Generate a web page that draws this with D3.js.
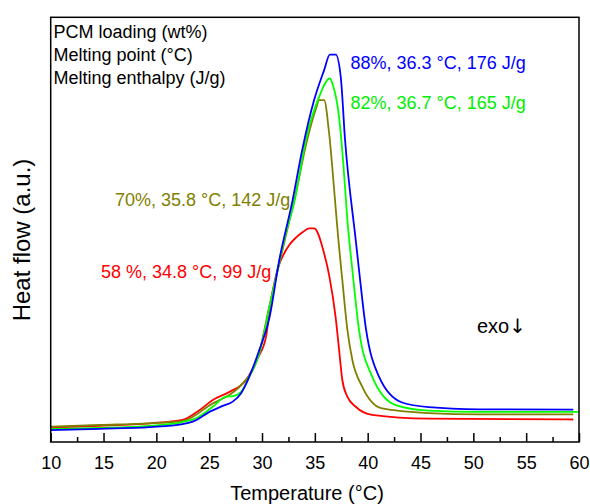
<!DOCTYPE html>
<html>
<head>
<meta charset="utf-8">
<script src="https://cdn.jsdelivr.net/npm/d3@7"></script>
<style>
  html, body { margin: 0; padding: 0; background: #fff; }
  svg { display: block; }
  text { font-family: "Liberation Sans", Arial, sans-serif; }
</style>
</head>
<body>
<svg id="chart" width="590" height="504"></svg>
<script>
// DSC melting curves: temperature (°C) vs heat flow (arbitrary units)
const temp88 = [10, 14.65, 19.37, 22.48, 23.45, 25.03, 26.28, 27.23, 28.02, 28.80, 29.75, 30.69, 31.63, 32.89, 33.80, 34.93, 35.87, 36.42, 36.98, 37.45, 37.86, 38.87, 39.18, 39.81, 41.07, 43.26, 45.78, 50.50, 59.46];
const flow88 = [0.28, 0.31, 0.35, 0.42, 0.48, 0.71, 0.85, 0.95, 1.15, 1.54, 2.17, 2.91, 4.28, 5.69, 6.87, 8.05, 8.75, 9.12, 9.12, 8.60, 7.11, 4.75, 4.05, 2.71, 1.54, 0.93, 0.82, 0.77, 0.76];

const temp82 = [10, 14.65, 19.37, 22.48, 23.77, 25.34, 26.60, 27.23, 28.02, 28.80, 29.75, 30.85, 32.26, 33.09, 34.15, 35.41, 36.42, 36.66, 37.29, 37.67, 38.08, 38.55, 39.18, 40.43, 42.64, 45.78, 50.50, 60.00];
const flow82 = [0.31, 0.33, 0.38, 0.47, 0.56, 0.83, 1.07, 1.08, 1.18, 1.54, 2.09, 3.34, 4.92, 5.69, 7.11, 8.13, 8.56, 8.44, 7.65, 6.64, 5.22, 4.05, 2.64, 1.54, 0.87, 0.74, 0.71, 0.71];

const temp70 = [10, 14.65, 19.37, 22.48, 25.34, 26.92, 28.17, 29.58, 30.78, 32.29, 33.14, 34.27, 35.12, 35.41, 35.88, 36.35, 36.87, 37.23, 37.60, 38.08, 38.55, 39.49, 41.38, 45.78, 50.50, 59.46];
const flow70 = [0.36, 0.40, 0.44, 0.49, 0.91, 1.11, 1.38, 1.97, 3.29, 4.89, 5.79, 7.11, 7.86, 8.05, 8.05, 7.27, 5.81, 4.75, 3.81, 2.64, 1.93, 1.30, 0.79, 0.68, 0.65, 0.65];

const temp58 = [10, 14.65, 19.37, 22.48, 24.08, 25.34, 26.92, 28.49, 29.58, 30.38, 30.85, 31.16, 31.54, 32.01, 32.58, 33.24, 33.90, 34.46, 34.93, 35.88, 36.35, 36.98, 37.25, 37.60, 38.05, 38.87, 40.41, 45.78, 59.46];
const flow58 = [0.34, 0.38, 0.44, 0.52, 0.75, 0.99, 1.18, 1.46, 1.97, 2.48, 3.34, 3.74, 4.12, 4.40, 4.64, 4.82, 4.95, 5.03, 5.03, 4.44, 3.93, 2.91, 2.28, 1.46, 1.08, 0.83, 0.64, 0.55, 0.53];

// Sample annotations: PCM loading, melting point, melting enthalpy
const labels88 = "88%, 36.3 \u00B0C, 176 J/g";
const labels82 = "82%, 36.7 \u00B0C, 165 J/g";
const labels70 = "70%, 35.8 \u00B0C, 142 J/g";
const labels58 = "58 %, 34.8 \u00B0C, 99 J/g";
const headerLines = ["PCM loading (wt%)", "Melting point (\u00B0C)", "Melting enthalpy (J/g)"];

const xTicks = [10, 15, 20, 25, 30, 35, 40, 45, 50, 55, 60];
const xMinorTicks = [12.5, 17.5, 22.5, 27.5, 32.5, 37.5, 42.5, 47.5, 52.5, 57.5];

const series = [
  { t: temp58, f: flow58, color: "#ff0000" },
  { t: temp70, f: flow70, color: "#808000" },
  { t: temp82, f: flow82, color: "#00ff00" },
  { t: temp88, f: flow88, color: "#0000ff" }
];

const svg = d3.select("#chart");
const plot = { left: 50.7, right: 579, top: 17.3, bottom: 442 };

const x = d3.scaleLinear().domain([10, 60]).range([plot.left, plot.right]);
const y = d3.scaleLinear().domain([0, 10]).range([plot.bottom, plot.top]);

// curves
const line = d3.line()
  .x(d => x(d[0]))
  .y(d => y(d[1]))
  .curve(d3.curveMonotoneX);

svg.append("g").selectAll("path")
  .data(series)
  .join("path")
  .attr("d", s => line(s.t.map((t, i) => [t, s.f[i]])))
  .attr("fill", "none")
  .attr("stroke", s => s.color)
  .attr("stroke-width", 1.8)
  .attr("stroke-linejoin", "round");

// frame
svg.append("rect")
  .attr("x", plot.left).attr("y", plot.top)
  .attr("width", plot.right - plot.left)
  .attr("height", plot.bottom - plot.top)
  .attr("fill", "none").attr("stroke", "#000").attr("stroke-width", 1.5);

// bottom axis with inward ticks
const xAxis = d3.axisBottom(x).tickValues(xTicks).tickSize(-9).tickPadding(14).tickFormat(d3.format("d"));
const gx = svg.append("g").attr("transform", `translate(0,${plot.bottom})`).call(xAxis);
gx.select(".domain").remove();
gx.selectAll(".tick line").attr("stroke", "#000").attr("stroke-width", 1.5);
gx.selectAll(".tick text")
  .attr("font-size", 18)
  .attr("fill", "#000")
  .attr("font-family", "Liberation Sans, Arial, sans-serif");

const xMinor = d3.axisBottom(x).tickValues(xMinorTicks).tickSize(-5).tickFormat("");
const gxm = svg.append("g").attr("transform", `translate(0,${plot.bottom})`).call(xMinor);
gxm.select(".domain").remove();
gxm.selectAll(".tick line").attr("stroke", "#000").attr("stroke-width", 1.5);

// axis titles
svg.append("text")
  .attr("x", 307).attr("y", 500)
  .attr("text-anchor", "middle")
  .attr("font-size", 20)
  .text("Temperature (\u00B0C)");

svg.append("text")
  .attr("transform", "translate(30,240) rotate(-90)")
  .attr("text-anchor", "middle")
  .attr("font-size", 24)
  .text("Heat flow (a.u.)");

// header block
svg.append("g").selectAll("text")
  .data(headerLines)
  .join("text")
  .attr("x", 53.5)
  .attr("y", (d, i) => 37.5 + i * 23.3)
  .attr("font-size", 18)
  .text(d => d);

// per-sample annotations
const notes = [
  { text: labels88, x: 350.5, y: 68.5, color: "#0000ff" },
  { text: labels82, x: 350.5, y: 108.5, color: "#00ee00" },
  { text: labels70, x: 115, y: 206, color: "#808000" },
  { text: labels58, x: 101, y: 277.5, color: "#ff0000" }
];
svg.append("g").selectAll("text")
  .data(notes)
  .join("text")
  .attr("x", d => d.x)
  .attr("y", d => d.y)
  .attr("fill", d => d.color)
  .attr("font-size", 18)
  .text(d => d.text);

// exothermic direction marker
const exo = svg.append("text")
  .attr("x", 477).attr("y", 333)
  .attr("font-size", 20)
  .attr("fill", "#000");
exo.append("tspan").text("exo");
exo.append("tspan")
  .attr("font-family", "DejaVu Sans")
  .attr("fill", "#000")
  .text("\u2193\uFE0E");
</script>
</body>
</html>
